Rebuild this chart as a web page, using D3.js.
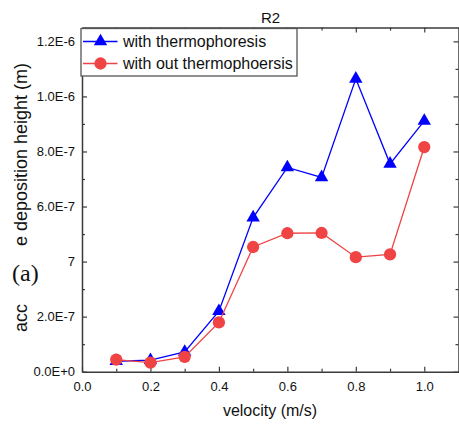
<!DOCTYPE html>
<html>
<head>
<meta charset="utf-8">
<script src="https://cdn.jsdelivr.net/npm/d3@7"></script>
<style>
  body { margin: 0; background: #fff; }
  svg { display: block; font-family: "Liberation Sans", Arial, sans-serif; }
</style>
</head>
<body>
<div id="chart"></div>
<script>
// values
var velocity = [0.1, 0.2, 0.3, 0.4, 0.5, 0.6, 0.7, 0.8, 0.9, 1.0];
var withThermo = [3.8e-8, 4.2e-8, 7.2e-8, 2.2e-7, 5.6e-7, 7.42e-7, 7.06e-7, 1.064e-6, 7.55e-7, 9.11e-7];
var withoutThermo = [4.4e-8, 3.3e-8, 5.4e-8, 1.79e-7, 4.53e-7, 5.03e-7, 5.04e-7, 4.16e-7, 4.26e-7, 8.16e-7];
var seriesNames = ["with thermophoresis", "with out thermophoersis"];
var xTicks = [0, 0.2, 0.4, 0.6, 0.8, 1.0];
var yTicks = [0, 2e-7, 4e-7, 6e-7, 8e-7, 1e-6, 1.2e-6];

var width = 459, height = 425;
var plotL = 82, plotR = 458.5, plotT = 27.6, plotB = 371.7;
var blue = "#0000ff", red = "#f04343";

var svg = d3.select("#chart").append("svg")
    .attr("width", width)
    .attr("height", height);

var x = d3.scaleLinear().domain([0, 1.1]).range([plotL, plotR]);
var y = d3.scaleLinear().domain([0, 1.25e-6]).range([plotB, plotT]);

var fmtY = function(d){
  if (Math.abs(d - 4e-7) < 1e-12) return "7"; // rest of this label is hidden in the original
  return d3.format(".1e")(d).replace("e", "E");
};

// minor ticks first (all four sides, inward)
var xMinor = [0.1, 0.3, 0.5, 0.7, 0.9];
var yMinor = [1e-7, 3e-7, 5e-7, 7e-7, 9e-7, 1.1e-6];

svg.append("g").attr("transform", "translate(0," + plotB + ")")
  .call(d3.axisBottom(x).tickValues(xMinor).tickSize(-3).tickFormat(""))
  .call(function(g){ g.select(".domain").remove(); });
svg.append("g").attr("transform", "translate(0," + plotT + ")")
  .call(d3.axisTop(x).tickValues(xMinor).tickSize(-3).tickFormat(""))
  .call(function(g){ g.select(".domain").remove(); });
svg.append("g").attr("transform", "translate(" + plotL + ",0)")
  .call(d3.axisLeft(y).tickValues(yMinor).tickSize(-3).tickFormat(""))
  .call(function(g){ g.select(".domain").remove(); });
svg.append("g").attr("transform", "translate(" + plotR + ",0)")
  .call(d3.axisRight(y).tickValues(yMinor).tickSize(-3).tickFormat(""))
  .call(function(g){ g.select(".domain").remove(); });

// major axes
svg.append("g").attr("transform", "translate(0," + plotB + ")")
  .call(d3.axisBottom(x).tickValues(xTicks).tickSizeInner(-5).tickSizeOuter(0).tickPadding(10)
    .tickFormat(d3.format(".1f")));
svg.append("g").attr("transform", "translate(0," + plotT + ")")
  .call(d3.axisTop(x).tickValues(xTicks).tickSizeInner(-5).tickSizeOuter(0).tickFormat(""));
svg.append("g").attr("transform", "translate(" + plotL + ",0)")
  .call(d3.axisLeft(y).tickValues(yTicks).tickSizeInner(-5).tickSizeOuter(0).tickPadding(7)
    .tickFormat(fmtY));
svg.append("g").attr("transform", "translate(" + plotR + ",0)")
  .call(d3.axisRight(y).tickValues(yTicks).tickSizeInner(-5).tickSizeOuter(0).tickFormat(""));

svg.selectAll(".domain").attr("stroke", "#3a3a3a").attr("stroke-width", 1.5);
svg.selectAll(".tick line").attr("stroke", "#3a3a3a").attr("stroke-width", 1.2);
svg.selectAll(".tick text").attr("font-size", 13).attr("fill", "#111")
  .attr("font-family", "Liberation Sans, Arial, sans-serif");

// series
var lineGen = d3.line()
  .x(function(d){ return x(d[0]); })
  .y(function(d){ return y(d[1]); });

var blueData = velocity.map(function(v, i){ return [v, withThermo[i]]; });
var redData = velocity.map(function(v, i){ return [v, withoutThermo[i]]; });

var tri = d3.symbol().type(d3.symbolTriangle).size(78);
var dot = d3.symbol().type(d3.symbolCircle).size(118);

svg.append("path").datum(blueData)
  .attr("d", lineGen).attr("fill", "none")
  .attr("stroke", blue).attr("stroke-width", 1.3);
svg.selectAll(".tri").data(blueData).enter().append("path")
  .attr("class", "tri")
  .attr("d", tri)
  .attr("transform", function(d){ return "translate(" + x(d[0]) + "," + y(d[1]) + ")"; })
  .attr("fill", blue);

svg.append("path").datum(redData)
  .attr("d", lineGen).attr("fill", "none")
  .attr("stroke", red).attr("stroke-width", 1.3);
svg.selectAll(".dot").data(redData).enter().append("path")
  .attr("class", "dot")
  .attr("d", dot)
  .attr("transform", function(d){ return "translate(" + x(d[0]) + "," + y(d[1]) + ")"; })
  .attr("fill", red);

// legend
var lg = svg.append("g");
lg.append("rect")
  .attr("x", 81).attr("y", 28.5).attr("width", 216).attr("height", 47.5)
  .attr("fill", "#fff").attr("stroke", "#555").attr("stroke-width", 1.3);
var legendItems = [
  {name: seriesNames[0], color: blue, sym: tri, yy: 41.5},
  {name: seriesNames[1], color: red, sym: dot, yy: 63.5}
];
legendItems.forEach(function(it){
  lg.append("line")
    .attr("x1", 83).attr("x2", 117.5).attr("y1", it.yy).attr("y2", it.yy)
    .attr("stroke", it.color).attr("stroke-width", 1.3);
  lg.append("path").attr("d", it.sym)
    .attr("transform", "translate(100.5," + it.yy + ")")
    .attr("fill", it.color);
  lg.append("text")
    .attr("x", 123).attr("y", it.yy + 5.8)
    .attr("font-size", 16).attr("fill", "#111")
    .text(it.name);
});

// title and axis labels
svg.append("text")
  .attr("x", 270.5).attr("y", 23)
  .attr("text-anchor", "middle").attr("font-size", 15).attr("fill", "#111")
  .text("R2");

svg.append("text")
  .attr("x", 270).attr("y", 416)
  .attr("text-anchor", "middle").attr("font-size", 16).attr("fill", "#111")
  .text("velocity (m/s)");

// y label: middle part is hidden in the original picture
svg.append("text")
  .attr("transform", "translate(27,332) rotate(-90)")
  .attr("font-size", 18).attr("fill", "#111")
  .text("acc");
svg.append("text")
  .attr("transform", "translate(27,246) rotate(-90)")
  .attr("font-size", 18).attr("fill", "#111")
  .text("e deposition height (m)");

svg.append("text")
  .attr("x", 12).attr("y", 281)
  .attr("font-family", "Liberation Serif, Times New Roman, serif")
  .attr("font-size", 24).attr("fill", "#111")
  .text("(a)");
</script>
</body>
</html>
